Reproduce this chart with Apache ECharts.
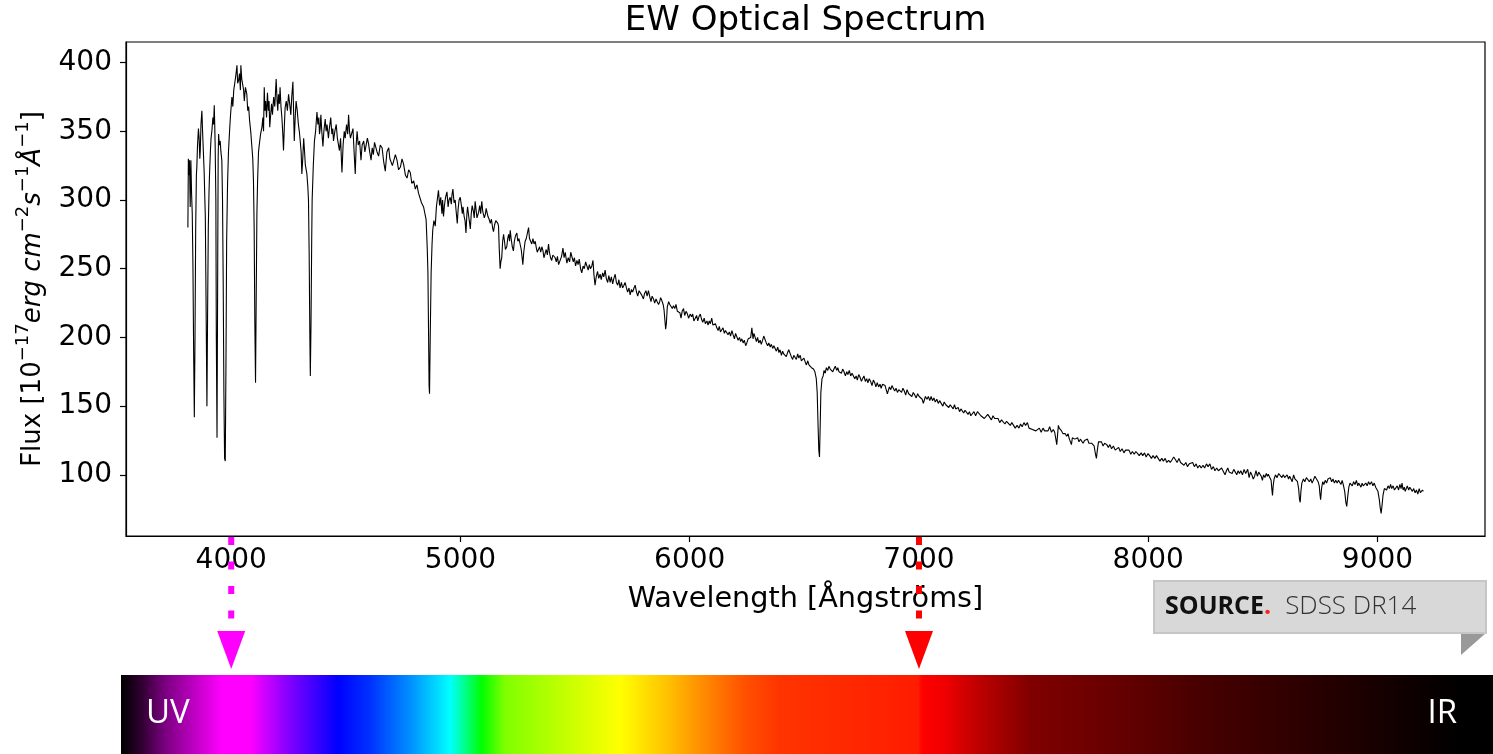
<!DOCTYPE html>
<html><head><meta charset="utf-8">
<script src="https://cdn.jsdelivr.net/npm/echarts@6/dist/echarts.min.js"></script>
<style>html,body{margin:0;padding:0;background:#fff;}#c{width:1493px;height:754px;}</style>
</head><body><div id="c"></div>
<script>
const xTicks = [4000, 5000, 6000, 7000, 8000, 9000];
const yTicks = [100, 150, 200, 250, 300, 350, 400];

// [wavelength (Å), flux]
const specBlue = [[3811,280],[3813,330],[3816,318],[3818,329],[3821,295],[3824,329],[3827,305],[3830,290],[3833,252],[3836,190],[3839,142],[3842,200],[3845,280],[3848,318],[3850,324],[3853,340],[3857,352],[3860,345],[3863,330],[3865,336],[3868,355],[3872,365],[3875,350],[3879,333],[3882,320],[3885,300],[3887,288],[3890,230],[3894,150],[3897,220],[3900,280],[3903,305],[3905,317],[3909,335],[3912,345],[3916,351],[3920,360],[3923,355],[3926,369],[3928,355],[3930,339],[3933,300],[3935,200],[3938,127],[3941,250],[3943,330],[3945,348],[3948,340],[3952,343],[3955,335],[3959,329],[3962,300],[3965,240],[3968,160],[3971,112],[3974,110],[3977,180],[3980,270],[3984,312],[3988,335],[3993,351],[3997,362],[4003,375],[4007,368],[4011,380],[4017,387],[4021,392],[4025,398],[4028,385],[4032,387],[4036,392],[4040,380],[4042,398],[4046,388],[4051,389],[4054,380],[4057,372],[4062,382],[4068,377],[4072,365],[4076,368],[4080,358],[4085,350],[4090,339],[4094,330],[4097,314],[4100,280],[4103,210],[4106,167],[4109,230],[4112,290],[4115,314],[4119,335],[4123,341],[4128,348],[4134,353],[4138,360],[4141,350],[4144,382],[4147,365],[4150,372],[4154,360],[4158,378],[4162,365],[4165,372],[4168,353],[4172,362],[4176,370],[4180,362],[4185,375],[4190,368],[4196,388],[4200,372],[4203,365],[4206,377],[4210,370],[4213,382],[4217,368],[4221,360],[4225,348],[4228,336],[4232,355],[4235,367],[4240,372],[4245,365],[4250,377],[4255,370],[4260,362],[4264,375],[4269,386],[4272,365],[4275,343],[4279,360],[4283,372],[4288,365],[4293,355],[4297,350],[4301,343],[4305,335],[4308,319],[4312,330],[4316,345],[4320,335],[4323,326],[4327,322],[4330,319],[4334,310],[4337,300],[4340,260],[4343,200],[4345,172],[4348,210],[4351,270],[4353,300],[4358,325],[4363,343],[4368,350],[4374,364],[4378,355],[4382,360],[4385,348],[4388,352],[4391,362],[4395,350],[4400,339],[4404,350],[4410,359],[4414,350],[4418,355],[4424,345],[4428,352],[4434,360],[4439,348],[4443,352],[4446,343],[4452,350],[4458,355],[4463,345],[4468,340],[4472,336],[4477,345],[4480,332],[4483,320],[4488,340],[4493,350],[4497,345]];

const specCyan = [[4503,355],[4508,348],[4512,362],[4516,350],[4520,345],[4527,345],[4531,352],[4536,335],[4541,319],[4545,340],[4549,350],[4554,340],[4560,343],[4566,329],[4571,340],[4578,343],[4583,335],[4589,336],[4594,345],[4599,341],[4604,335],[4610,329],[4615,338],[4620,333],[4625,342],[4629,343],[4636,335],[4643,332],[4650,340],[4658,338],[4665,328],[4672,321],[4679,335],[4687,338],[4692,330],[4697,331],[4703,325],[4709,326],[4716,333],[4723,329],[4730,322],[4738,324],[4745,330],[4752,326],[4760,318],[4767,316],[4774,322],[4781,320],[4788,312],[4796,314],[4803,308],[4810,311],[4817,305],[4824,305],[4830,298],[4839,295],[4845,290],[4850,286],[4855,265],[4858,247],[4861,200],[4863,165],[4865,159],[4868,200],[4872,247],[4876,268],[4879,278],[4884,285],[4890,281],[4895,295],[4900,302],[4904,307],[4909,296],[4914,302],[4919,290],[4922,300],[4926,288],[4930,296],[4935,302],[4941,306],[4946,295],[4950,300],[4955,302],[4960,297],[4963,304],[4967,308],[4972,298],[4977,300],[4981,292],[4986,283],[4990,294],[4994,300],[4999,302]];

const specGreen = [[5004,296],[5008,290],[5011,295],[5016,288],[5020,285],[5024,276],[5028,290],[5031,295],[5036,288],[5040,283],[5043,279],[5047,290],[5051,296],[5056,292],[5060,287],[5064,299],[5068,293],[5072,287],[5079,291],[5084,296],[5088,290],[5093,299],[5097,292],[5101,289],[5104,287],[5109,290],[5112,294],[5116,293],[5120,288],[5125,286],[5130,283],[5135,286],[5140,280],[5144,277],[5149,282],[5154,285],[5159,286],[5163,283],[5166,281],[5169,265],[5173,250],[5176,255],[5180,258],[5184,270],[5188,275],[5192,270],[5196,264],[5202,266],[5206,272],[5210,275],[5214,270],[5217,278],[5221,272],[5226,266],[5231,263],[5235,270],[5240,274],[5246,276],[5250,270],[5255,272],[5260,268],[5265,264],[5269,258],[5272,253],[5276,262],[5282,270],[5287,272],[5292,276],[5297,280],[5301,272],[5306,271],[5311,268],[5316,272],[5321,268],[5326,270],[5331,265],[5335,262],[5340,261],[5345,266],[5350,262],[5355,266],[5360,263],[5364,258],[5369,261],[5374,264],[5379,260],[5384,268],[5388,262],[5393,258],[5398,256],[5403,260],[5408,261],[5413,258],[5418,255],[5423,259],[5428,253],[5435,254]];

const specYellow = [[5441,259],[5447,265],[5452,258],[5457,262],[5464,254],[5470,258],[5476,255],[5481,262],[5486,261],[5492,255],[5497,258],[5502,252],[5508,256],[5513,253],[5518,257],[5524,250],[5529,247],[5535,252],[5540,250],[5546,255],[5551,254],[5557,249],[5562,253],[5567,250],[5573,252],[5578,256],[5582,246],[5587,238],[5592,244],[5598,248],[5603,243],[5609,246],[5614,242],[5620,247],[5625,244],[5631,249],[5636,243],[5642,240],[5647,245],[5653,240],[5658,244],[5664,239],[5669,243],[5675,246],[5680,240],[5686,238],[5691,242],[5696,236],[5702,240],[5707,236],[5713,238],[5718,240],[5724,236],[5729,233],[5735,236],[5740,231],[5746,235],[5751,233],[5757,236],[5762,238],[5768,233],[5773,230],[5779,234],[5784,235],[5790,231],[5795,230],[5798,228],[5803,232],[5809,234],[5814,230],[5820,234],[5825,230],[5831,226],[5836,230],[5842,228],[5847,225],[5853,228],[5858,226],[5864,224],[5869,226],[5873,229],[5878,227],[5884,224],[5888,220],[5892,212],[5895,206],[5898,210],[5902,222],[5908,226],[5913,224],[5918,225],[5924,221],[5929,223],[5935,221],[5940,224],[5946,219],[5951,220],[5957,218],[5962,214],[5967,219],[5973,221],[5978,216],[5984,219],[5990,217],[5995,214],[6002,217],[6008,215],[6013,217],[6018,212],[6024,214],[6030,216],[6035,212],[6040,215],[6046,217],[6052,213],[6057,211],[6063,214],[6068,210],[6075,212],[6080,209],[6085,212],[6090,210],[6096,214],[6101,209],[6107,208],[6112,210],[6118,207],[6124,205],[6129,208],[6134,204],[6140,205],[6145,207],[6151,203],[6156,205],[6162,206],[6167,202],[6173,204],[6178,201],[6184,205],[6189,202],[6195,199],[6200,203],[6206,202],[6211,198],[6217,200],[6222,197],[6227,199],[6233,196],[6238,198],[6244,194],[6249,196],[6255,199],[6260,198],[6266,200],[6271,207],[6276,199],[6280,203],[6285,202],[6291,197],[6296,200],[6301,196],[6307,198],[6312,195],[6318,198],[6323,201],[6329,200],[6334,196],[6340,194],[6345,196],[6351,193],[6356,195],[6362,192],[6367,194],[6373,194],[6378,190],[6384,193],[6389,189],[6394,191],[6400,187],[6405,190],[6410,188],[6416,188],[6421,186],[6427,189],[6432,191],[6438,190],[6443,186],[6449,184],[6454,187],[6460,186],[6465,184],[6471,188],[6476,185],[6482,187],[6487,183],[6493,182],[6498,185],[6504,182],[6509,180],[6515,183],[6520,180],[6526,181],[6531,178],[6536,179],[6540,177]];

const specRed = [[6546,175],[6552,170],[6556,160],[6560,135],[6563,118],[6566,113],[6569,135],[6572,160],[6577,170],[6582,172],[6586,176],[6591,174],[6596,178],[6602,176],[6607,179],[6613,177],[6618,178],[6624,175],[6629,177],[6635,179],[6641,176],[6646,178],[6651,175],[6656,176],[6662,174],[6667,177],[6673,175],[6679,172],[6685,175],[6690,173],[6696,176],[6702,172],[6708,174],[6714,173],[6720,170],[6726,172],[6731,169],[6737,173],[6743,171],[6749,168],[6754,170],[6760,172],[6766,168],[6772,170],[6777,167],[6783,170],[6789,168],[6795,165],[6801,169],[6807,167],[6812,164],[6818,167],[6824,164],[6830,166],[6835,163],[6841,166],[6847,165],[6852,165],[6857,162],[6862,159],[6866,160],[6871,164],[6877,162],[6882,165],[6888,164],[6894,161],[6900,163],[6906,160],[6912,162],[6918,162],[6924,160],[6930,163],[6936,161],[6942,158],[6948,162],[6955,159],[6963,160],[6969,157],[6975,160],[6982,158],[6988,156],[6994,159],[7001,157],[7008,158],[7014,155],[7019,152],[7023,153],[7028,157],[7035,155],[7041,157],[7047,154],[7053,157],[7059,154],[7065,156],[7071,153],[7078,155],[7084,152],[7090,154],[7098,153],[7104,150],[7110,153],[7117,151],[7123,152],[7130,149],[7136,151],[7143,150],[7149,148],[7155,151],[7160,148],[7165,147],[7171,149],[7177,146],[7183,148],[7188,148],[7195,145],[7201,147],[7208,146],[7214,144],[7220,146],[7226,143],[7233,144],[7240,146],[7247,143],[7255,146],[7263,147],[7270,143],[7277,144],[7285,141],[7293,142],[7300,144],[7308,142],[7316,140],[7323,143],[7330,141],[7338,140],[7345,141],[7352,138],[7360,140],[7368,139],[7375,137],[7382,139],[7390,138],[7398,136],[7405,138],[7413,137],[7420,134],[7428,136],[7436,134],[7443,137],[7450,135],[7458,138],[7465,136],[7473,138],[7480,134],[7488,135],[7495,133],[7503,134],[7510,132],[7518,133],[7525,134],[7533,131],[7541,134],[7548,132],[7556,133],[7563,132],[7570,135],[7578,131],[7586,133],[7592,131],[7597,126],[7601,122],[7605,130],[7608,136],[7612,134],[7616,134],[7622,132],[7628,130],[7633,131],[7638,130],[7644,128],[7650,130],[7656,126],[7661,125],[7665,122],[7669,127],[7674,128],[7680,126],[7686,125],[7692,127],[7698,124],[7704,126],[7710,125],[7716,123],[7722,125],[7729,124],[7735,126],[7741,123],[7748,124],[7753,123],[7758,123],[7764,121],[7770,115],[7774,112],[7778,118],[7783,124],[7789,123],[7796,124],[7803,121],[7810,123],[7819,122],[7826,120],[7833,122],[7840,119],[7848,121],[7856,118],[7864,118],[7871,120],[7878,117],[7886,119],[7894,116],[7901,118],[7909,117],[7916,118],[7924,115],[7931,117],[7939,115],[7946,117],[7954,115.5],[7961,114],[7969,116],[7976,114],[7984,116],[7991,113],[7999,115.5]];

const specInfra = [[8006,114],[8014,112],[8021,114],[8029,112],[8036,114],[8044,113],[8051,110],[8059,112],[8066,110],[8074,112],[8081,109],[8089,110.5],[8096,109],[8104,111],[8111,113],[8119,111],[8126,109],[8134,112],[8141,109],[8149,110],[8156,107],[8164,109],[8171,106],[8179,108],[8186,107],[8194,109],[8201,106],[8209,108],[8216,105],[8224,107],[8231,105],[8239,107],[8246,105],[8254,108],[8261,106],[8269,108],[8276,104],[8284,106],[8291,103],[8299,105],[8306,103],[8314,104],[8320,105],[8326,103],[8331,104],[8335,100],[8337,100.5],[8341,103],[8347,105],[8353,102],[8359,103],[8366,101],[8373,104],[8380,102],[8386,100],[8392,103],[8398,101],[8404,103],[8411,100],[8418,104],[8425,101],[8434,104],[8440,98],[8446,102],[8452,100],[8458,97],[8464,99],[8470,103],[8476,99],[8482,102],[8487,102],[8493,99],[8498,96],[8503,100],[8509,98],[8515,101],[8520,99],[8524,100.5],[8530,98],[8536,96],[8539,90],[8542,85],[8545,92],[8549,97],[8555,100],[8562,98],[8569,101],[8577,102],[8583,98],[8589,100],[8595,98],[8600,97],[8606,100],[8612,97],[8617,99],[8622,99],[8628,95],[8634,100],[8640,97],[8645,98],[8651,95],[8656,90],[8660,82],[8663,80],[8666,88],[8670,94],[8677,97],[8683,95],[8690,98],[8697,98],[8703,95],[8709,97],[8715,94],[8720,96],[8727,99],[8735,98],[8741,95],[8746,92],[8749,86],[8752,82],[8756,90],[8761,95],[8766,93],[8772,96],[8778,94],[8784,97],[8790,96],[8794,98],[8800,95],[8806,97],[8812,94],[8818,96],[8824,94],[8830,96],[8836,95],[8841,93],[8846,96],[8852,92],[8857,88],[8862,80],[8866,77],[8870,84],[8875,91],[8880,94],[8884,94],[8890,92],[8896,95],[8902,93],[8908,96],[8914,92],[8918,94],[8922,94],[8928,91],[8933,94],[8938,92],[8944,91],[8949,94],[8955,92],[8961,95],[8967,93],[8974,95],[8980,92],[8986,94],[8992,91],[8997,91],[9002,88],[9008,82],[9012,76],[9016,72],[9020,78],[9024,85],[9030,90],[9035,91],[9040,89],[9046,92],[9052,90],[9057,93],[9062,90],[9068,92],[9074,89],[9080,90],[9086,92],[9092,89],[9098,93],[9103,90],[9107,94],[9112,89],[9117,91],[9121,88],[9125,88],[9130,92],[9136,89],[9141,91],[9147,91],[9152,88],[9158,90],[9164,87],[9170,89],[9176,86],[9182,90],[9187,87],[9192,86],[9196,89],[9200,88]];

const markerWaves = [4000, 7000];
const bandLabels = ['UV', 'IR'];
const titleText = 'EW Optical Spectrum';
const sourceWord = 'SOURCE';
const sourceName = 'SDSS DR14';

const spectrum = specBlue.concat(specCyan, specGreen, specYellow, specRed, specInfra);

// styles
const markerColors = ['#ff00ff', '#ff0000'];
const barStops = [
  [0.000,'#000000'],[0.014,'#2c002c'],[0.032,'#7a0080'],[0.058,'#cc00d0'],[0.074,'#ff00ff'],[0.094,'#ff00ff'],
  [0.123,'#8000ff'],[0.158,'#0000ff'],[0.181,'#0030ff'],[0.211,'#0090ff'],[0.240,'#00ffff'],[0.263,'#00ff00'],
  [0.280,'#80ff00'],[0.324,'#c4ff00'],[0.364,'#ffff00'],[0.399,'#ffc000'],[0.422,'#ff9000'],[0.455,'#ff5000'],
  [0.480,'#ff3400'],[0.531,'#ff2800'],[0.581,'#ff1c00'],[0.584,'#ff0000'],[0.600,'#f00000'],[0.624,'#c00000'],
  [0.663,'#800000'],[0.721,'#680000'],[0.786,'#480000'],[0.852,'#300000'],[0.914,'#180000'],[0.976,'#000000'],[1,'#000000']
];

const chart = echarts.init(document.getElementById('c'), null, {renderer: 'canvas'});
const font = 'DejaVu Sans';
const supStyle = {fontSize: 18, fontFamily: font, color: '#000', verticalAlign: 'top', lineHeight: 18};
chart.setOption({
  animation: false,
  backgroundColor: '#fff',
  grid: {left: 126, top: 42, right: 8, bottom: 218, show: true, borderColor: '#000', borderWidth: 1.2, backgroundColor: '#fff'},
  xAxis: {
    type: 'value', min: 3541, max: 9469,
    axisLine: {show: true, onZero: false, lineStyle: {color: '#000', width: 1.2}},
    axisTick: {show: true, length: 6, customValues: xTicks, lineStyle: {color: '#000', width: 1.2}},
    axisLabel: {customValues: xTicks, formatter: v => String(v), color: '#000', fontSize: 28, fontFamily: font, margin: 11},
    splitLine: {show: false},
    name: 'Wavelength [Ångströms]', nameLocation: 'middle', nameGap: 49,
    nameTextStyle: {fontSize: 28.7, fontFamily: font, color: '#000'}
  },
  yAxis: {
    type: 'value', min: 55.5, max: 415,
    axisLine: {show: true, onZero: false, lineStyle: {color: '#000', width: 1.2}},
    axisTick: {show: true, length: 6, customValues: yTicks, lineStyle: {color: '#000', width: 1.2}},
    axisLabel: {customValues: yTicks, formatter: v => String(v), color: '#000', fontSize: 28, fontFamily: font, margin: 14},
    splitLine: {show: false},
    name: '{t|Flux [10}{s|−17}{i|erg cm}{s|−2}{i|s}{s|−1}{i|Å}{s|−1}{t|]}', nameLocation: 'middle', nameGap: 80, nameRotate: 90,
    nameTextStyle: {fontSize: 26, fontFamily: font, color: '#000', rich: {
      t: {fontSize: 26, fontFamily: font, color: '#000', verticalAlign: 'bottom', lineHeight: 32},
      i: {fontSize: 26, fontFamily: font, fontStyle: 'italic', color: '#000', verticalAlign: 'bottom', lineHeight: 32},
      s: supStyle
    }}
  },
  series: [{
    type: 'line', data: spectrum, showSymbol: false, silent: true,
    lineStyle: {color: '#000', width: 1.1}
  }]
});

const els = [];
els.push({type: 'text', x: 805.5, y: 21, z: 10,
  style: {text: titleText, fill: '#000', font: '34px "DejaVu Sans"', align: 'center', verticalAlign: 'middle'}});

// spectrum strip
els.push({type: 'rect', shape: {x: 121, y: 675, width: 1372, height: 79}, z: 1,
  style: {fill: new echarts.graphic.LinearGradient(0, 0, 1, 0, barStops.map(s => ({offset: s[0], color: s[1]})))}});
els.push({type: 'text', x: 146, y: 714, z: 5, style: {text: bandLabels[0], fill: '#fff', font: '500 33px "Open Sans"', align: 'left', verticalAlign: 'middle'}});
els.push({type: 'text', x: 1457, y: 714, z: 5, style: {text: bandLabels[1], fill: '#fff', font: '500 33px "Open Sans"', align: 'right', verticalAlign: 'middle'}});

// wavelength markers
markerWaves.forEach((w, i) => {
  const px = chart.convertToPixel({xAxisIndex: 0}, w);
  els.push({type: 'line', z: 20, shape: {x1: px, y1: 537, x2: px, y2: 628},
    style: {stroke: markerColors[i], lineWidth: 6, lineDash: [8, 16.5]}});
  els.push({type: 'polygon', z: 20, shape: {points: [[px - 14, 631], [px + 14, 631], [px, 669]]},
    style: {fill: markerColors[i]}});
});

// source box
els.push({type: 'polygon', z: 5, shape: {points: [[1461, 633], [1486, 633], [1461, 655]]}, style: {fill: '#999999'}});
els.push({type: 'rect', z: 6, shape: {x: 1154, y: 581, width: 332, height: 52}, style: {fill: '#d8d8d8', stroke: '#c6c6c6', lineWidth: 2}});
els.push({type: 'text', z: 7, x: 1165, y: 607,
  style: {text: '{b|' + sourceWord + '}{r|.}{n|' + sourceName + '}', verticalAlign: 'middle', align: 'left',
    rich: {
      b: {fontFamily: 'Open Sans', fontWeight: 'bold', fontSize: 25, fill: '#111'},
      r: {fontFamily: 'Open Sans', fontWeight: 'bold', fontSize: 25, fill: '#ff2020'},
      n: {fontFamily: 'Open Sans', fontWeight: 300, fontSize: 26, fill: '#333', padding: [0, 0, 0, 14]}
    }}});

chart.setOption({graphic: {elements: els}});
</script></body></html>
